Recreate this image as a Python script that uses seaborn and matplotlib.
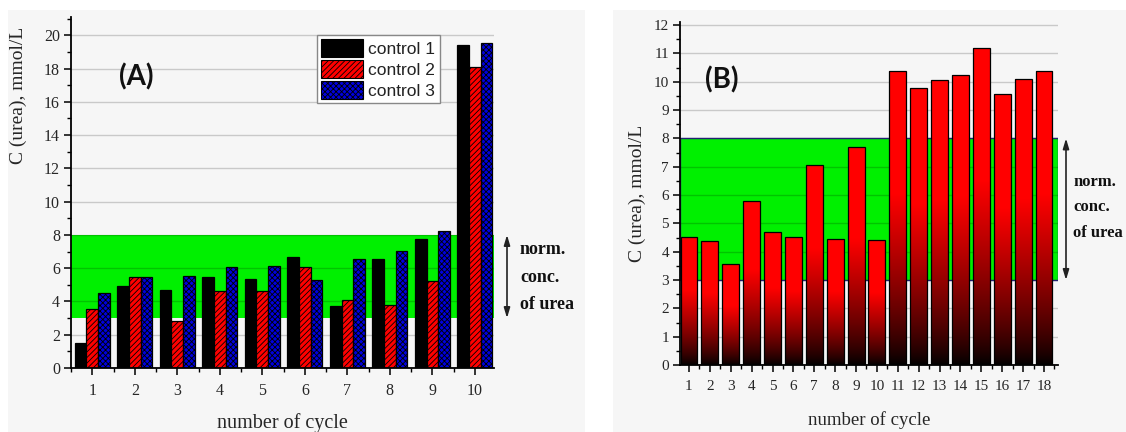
import numpy as np
import pandas as pd
import matplotlib
matplotlib.use("Agg")
import matplotlib.pyplot as plt
import seaborn as sns
from matplotlib.patches import Patch, Rectangle
from matplotlib.ticker import MultipleLocator, FixedLocator
import matplotlib.transforms as mtransforms

# ---------------- data ----------------
cycles_A = [str(i) for i in range(1, 11)]
control_1 = [1.5, 4.95, 4.7, 5.45, 5.35, 6.65, 3.75, 6.55, 7.75, 19.4]
control_2 = [3.55, 5.45, 2.8, 4.6, 4.65, 6.05, 4.1, 3.8, 5.25, 18.1]
control_3 = [4.5, 5.5, 5.55, 6.1, 6.15, 5.3, 6.55, 7.05, 8.25, 19.55]
series_names = ["control 1", "control 2", "control 3"]

cycles_B = [str(i) for i in range(1, 19)]
values_B = [4.52, 4.37, 3.57, 5.8, 4.68, 4.51, 7.07, 4.45, 7.68, 4.4,
            10.38, 9.77, 10.06, 10.24, 11.2, 9.56, 10.11, 10.38]

norm_low, norm_high = 3, 8
yticks_A = list(range(0, 21, 2))
yticks_B = list(range(0, 13))

# ---------------- style ----------------
sns.set_theme(style="white")
plt.rcParams["font.family"] = ["Liberation Serif", "DejaVu Serif"]
plt.rcParams["hatch.linewidth"] = 0.6

W, H = 1126, 432
fig = plt.figure(figsize=(W / 100, H / 100), dpi=100, facecolor="white")

def fx(px):
    return px / W

def fy(py):
    return 1 - py / H

# panel backgrounds
fig.patches.append(Rectangle((fx(8), 0), fx(577), fy(10), transform=fig.transFigure,
                             facecolor="#f6f6f6", edgecolor="none", zorder=-10))
fig.patches.append(Rectangle((fx(613), 0), fx(513), fy(10), transform=fig.transFigure,
                             facecolor="#f6f6f6", edgecolor="none", zorder=-10))

green = "#00f000"
grid_col = (0, 0, 0, 0.18)

# ---------------- panel A ----------------
A_left, A_right, A_top, A_bot = 71, 494, 17, 368
axA = fig.add_axes([fx(A_left), fy(A_bot), fx(A_right - A_left), (A_bot - A_top) / H])
axA.set_facecolor("none")
dfA = pd.DataFrame({
    "cycle": cycles_A * 3,
    "value": control_1 + control_2 + control_3,
    "series": sum([[s] * len(cycles_A) for s in series_names], []),
})
palA = {"control 1": "#000000", "control 2": "#ff0000", "control 3": "#0000dd"}
sns.barplot(data=dfA, x="cycle", y="value", hue="series", palette=palA,
            width=0.82, edgecolor="black", linewidth=0.9, errorbar=None,
            saturation=1, legend=False, ax=axA)
hatches = [None, "//////", "xxxxxx"]
for cont, h in zip(axA.containers, hatches):
    for bar in cont:
        if h:
            bar.set_hatch(h)
        bar.set_zorder(2)

axA.axhspan(norm_low, norm_high, facecolor=green, edgecolor="none", zorder=0.3)
for v in yticks_A[1:]:
    axA.axhline(v, color=grid_col, lw=1.0, zorder=0.6)

axA.set_xlim(-0.5, 9.45)
axA.set_ylim(0, 21.1)
axA.yaxis.set_major_locator(FixedLocator(yticks_A))
axA.yaxis.set_minor_locator(MultipleLocator(1))
axA.xaxis.set_minor_locator(FixedLocator(np.arange(-0.5, 10, 1)))

axA.set_xlabel("number of cycle", fontsize=14.5, va="center")
axA.xaxis.set_label_coords(0.5, (A_bot - 423) / (A_bot - A_top))
axA.set_ylabel("C (urea), mmol/L", fontsize=14)
axA.yaxis.set_label_coords((27 - A_left) / (A_right - A_left), (A_bot - 95) / (A_bot - A_top))

legend_handles = [
    Patch(facecolor=palA["control 1"], edgecolor="black", linewidth=0.8),
    Patch(facecolor=palA["control 2"], edgecolor="black", hatch="//////", linewidth=0.8),
    Patch(facecolor=palA["control 3"], edgecolor="black", hatch="xxxxxx", linewidth=0.8),
]
leg = axA.legend(legend_handles, series_names, loc="upper left",
                 bbox_to_anchor=(fx(317), fy(35)), bbox_transform=fig.transFigure,
                 prop={"family": "Liberation Sans", "size": 12.5},
                 handlelength=2.4, handleheight=1.15, handletextpad=0.3,
                 labelspacing=0.2, borderpad=0.25, borderaxespad=0,
                 fancybox=False, framealpha=1, edgecolor="#888888")
leg.get_frame().set_linewidth(1.0)
leg.get_frame().set_facecolor("white")
for t in leg.get_texts():
    t.set_color("#222222")

# ---------------- panel B ----------------
B_left, B_right, B_top, B_bot = 680, 1058, 21.7, 365
axB = fig.add_axes([fx(B_left), fy(B_bot), fx(B_right - B_left), (B_bot - B_top) / H])
axB.set_facecolor("none")
sns.barplot(x=cycles_B, y=values_B, color="#ff0000", width=0.81,
            edgecolor="black", linewidth=0.9, errorbar=None, saturation=1, ax=axB)
bars_B = list(axB.containers[0])

axB.axhspan(norm_low, norm_high, facecolor=green, edgecolor="#2a2a8a", lw=1.0, zorder=0.3)
for v in yticks_B[1:]:
    axB.axhline(v, color=grid_col, lw=1.0, zorder=0.6)

# gradient fill (black at bottom -> red at top) clipped to each bar
t = np.linspace(0, 1, 256)
red = np.clip(t / 0.58, 0, 1) ** 0.8
grad = np.zeros((256, 1, 3))
grad[:, 0, 0] = red
for bar in bars_B:
    x0, y0 = bar.get_x(), bar.get_y()
    w, h = bar.get_width(), bar.get_height()
    im = axB.imshow(grad, extent=[x0, x0 + w, y0, y0 + h], origin="lower",
                    aspect="auto", zorder=1.9, interpolation="bilinear")
    im.set_clip_path(bar)
    bar.set_facecolor("none")
    bar.set_zorder(2)

axB.set_xlim(-0.43, 17.67)
axB.set_ylim(0, 12.12)
axB.yaxis.set_major_locator(FixedLocator(yticks_B))
axB.yaxis.set_minor_locator(MultipleLocator(0.5))
axB.xaxis.set_minor_locator(FixedLocator(np.arange(-0.5, 18, 1)))
axB.set_xlabel("number of cycle", fontsize=13.5, va="center")
axB.xaxis.set_label_coords(0.5, (B_bot - 420) / (B_bot - B_top))
axB.set_ylabel("C (urea), mmol/L", fontsize=14)
axB.yaxis.set_label_coords((646 - B_left) / (B_right - B_left), 0.5)

# ---------------- common axis styling ----------------
for ax, ls in ((axA, 11.5), (axB, 11)):
    for s in ("top", "right"):
        ax.spines[s].set_visible(False)
    for s in ("left", "bottom"):
        ax.spines[s].set_color("black")
        ax.spines[s].set_linewidth(1.3)
    ax.tick_params(axis="both", which="major", direction="out", length=5,
                   width=1.1, color="black", labelsize=ls, pad=3,
                   bottom=True, left=True)
    ax.tick_params(axis="both", which="minor", direction="out", length=3,
                   width=1.0, color="black", bottom=True, left=True)
    ax.tick_params(axis="x", which="major", pad=6)
    ax.grid(False)

# ---------------- annotations ----------------
for ax, ax_left, ax_w, arrow_x, text_x, text_ys, fs in [
    (axA, A_left, A_right - A_left, 507, 520, [7.11, 5.42, 3.8], 13),
    (axB, B_left, B_right - B_left, 1066, 1073, [6.46, 5.58, 4.66], 12),
]:
    trans = mtransforms.blended_transform_factory(ax.transAxes, ax.transData)
    xa = (arrow_x - ax_left) / ax_w
    ax.annotate("", xy=(xa, norm_high), xytext=(xa, norm_low), xycoords=trans,
                textcoords=trans, annotation_clip=False,
                arrowprops=dict(arrowstyle="<|-|>,head_length=0.5,head_width=0.15",
                                color="#222222", lw=1.2, shrinkA=0, shrinkB=0))
    xt = (text_x - ax_left) / ax_w
    for txt, yv in zip(["norm.", "conc.", "of urea"], text_ys):
        ax.text(xt, yv, txt, transform=trans, fontsize=fs, fontweight="bold",
                va="center", ha="left", color="#111111", clip_on=False)

fig.text(fx(136), fy(77), "(A)", fontsize=20, fontweight="bold",
         family=["Lato", "DejaVu Sans"], ha="center", va="center", color="#111111")
fig.text(fx(722), fy(80), "(B)", fontsize=20, fontweight="bold",
         family=["Lato", "DejaVu Sans"], ha="center", va="center", color="#111111")

fig.savefig("out.png", dpi=100, facecolor=fig.get_facecolor())
